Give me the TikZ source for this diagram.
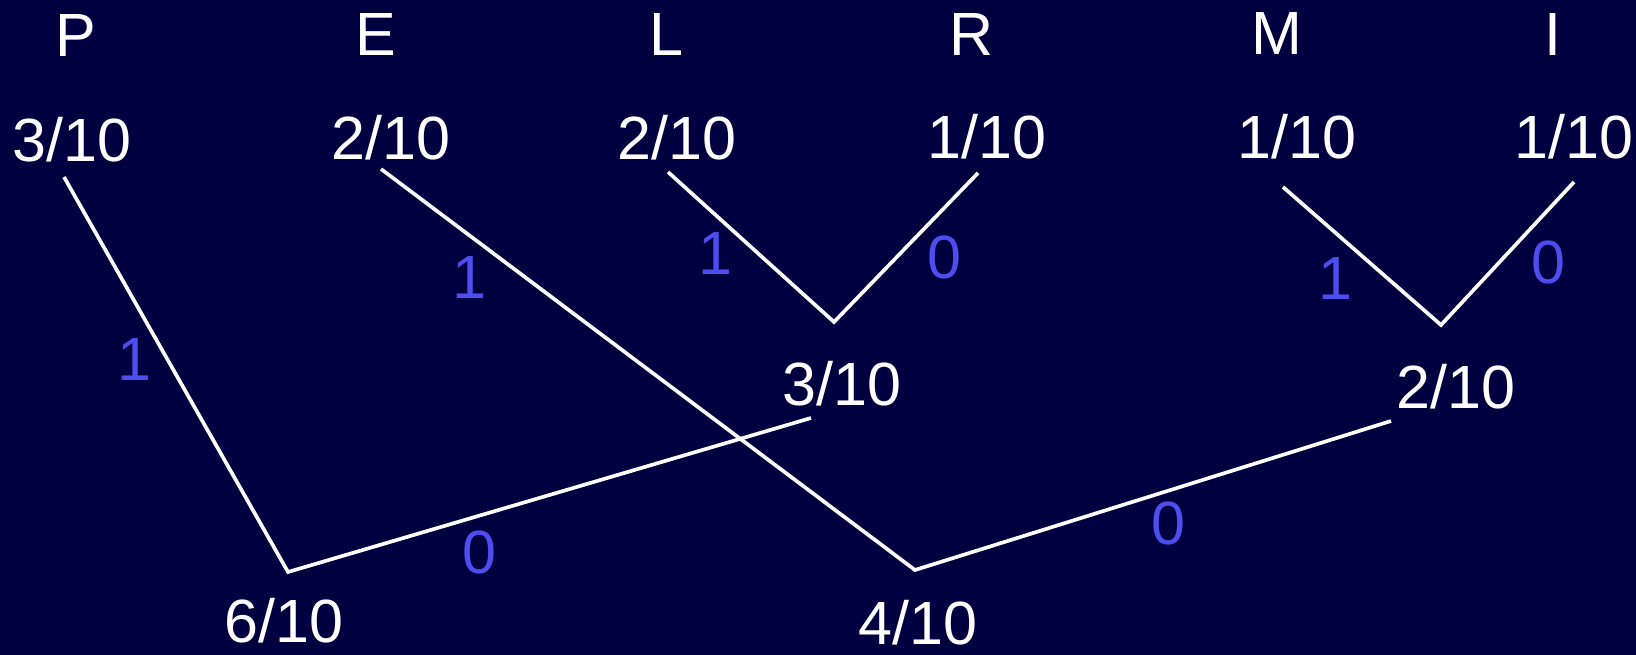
\documentclass[tikz,border=0pt]{standalone}
\usepackage{fontspec}
\setmainfont{Liberation Sans}
\usepackage{xcolor}
\definecolor{navy}{RGB}{0,0,64}
\definecolor{bitblue}{RGB}{77,77,240}

\begin{document}
\begin{tikzpicture}[x=0.025cm, y=-0.025cm,
    lbl/.style={text=white, inner sep=0pt, font=\fontsize{43.4}{52}\selectfont},
    bit/.style={lbl, text=bitblue},
    edge/.style={white, line width=2.6pt}]

    % Background, one unit is one pixel of the 1636 x 655 frame
    \fill[navy] (0,0) rectangle (1636,655);

    % Symbols
    \node[lbl] (symP) at (76,36)   {P};
    \node[lbl] (symE) at (376,35)  {E};
    \node[lbl] (symL) at (666,35)  {L};
    \node[lbl] (symR) at (972,35)  {R};
    \node[lbl] (symM) at (1277,34) {M};
    \node[lbl] (symI) at (1553,35) {I};

    % Their probabilities
    \node[lbl] (wP) at (72,140)   {3/10};
    \node[lbl] (wE) at (391,138)  {2/10};
    \node[lbl] (wL) at (677,138)  {2/10};
    \node[lbl] (wR) at (987,137)  {1/10};
    \node[lbl] (wM) at (1297,137) {1/10};
    \node[lbl] (wI) at (1574,137) {1/10};

    % Merged weights
    \node[lbl] (wLR)  at (842,384) {3/10};
    \node[lbl] (wMI)  at (1456,387) {2/10};
    \node[lbl] (wPLR) at (284,621) {6/10};
    \node[lbl] (wEMI) at (918,623) {4/10};

    % Where the branches start and meet
    \coordinate (tP) at (64,177);
    \coordinate (tE) at (381,169);
    \coordinate (tL) at (668,172);
    \coordinate (tR) at (978,173);
    \coordinate (tM) at (1283,187);
    \coordinate (tI) at (1574,182);
    \coordinate (tLR) at (811,418);
    \coordinate (tMI) at (1391,421);
    \coordinate (LR)  at (834,322);
    \coordinate (MI)  at (1441,325);
    \coordinate (PLR) at (288,572);
    \coordinate (EMI) at (915,570);

    % Branches
    \draw[edge] (tL) -- (LR) -- (tR);
    \draw[edge] (tM) -- (MI) -- (tI);
    \draw[edge] (tP) -- (PLR) -- (tLR);
    \draw[edge] (tE) -- (EMI) -- (tMI);

    % Code bits on the branches
    \node[bit] (bP)  at (134,360)  {1};
    \node[bit] (bE)  at (469,278)  {1};
    \node[bit] (bL)  at (715,254)  {1};
    \node[bit] (bR)  at (944,257)  {0};
    \node[bit] (bM)  at (1335,279) {1};
    \node[bit] (bI)  at (1548,262) {0};
    \node[bit] (bLR) at (479,552)  {0};
    \node[bit] (bMI) at (1168,523) {0};

\end{tikzpicture}
\end{document}
